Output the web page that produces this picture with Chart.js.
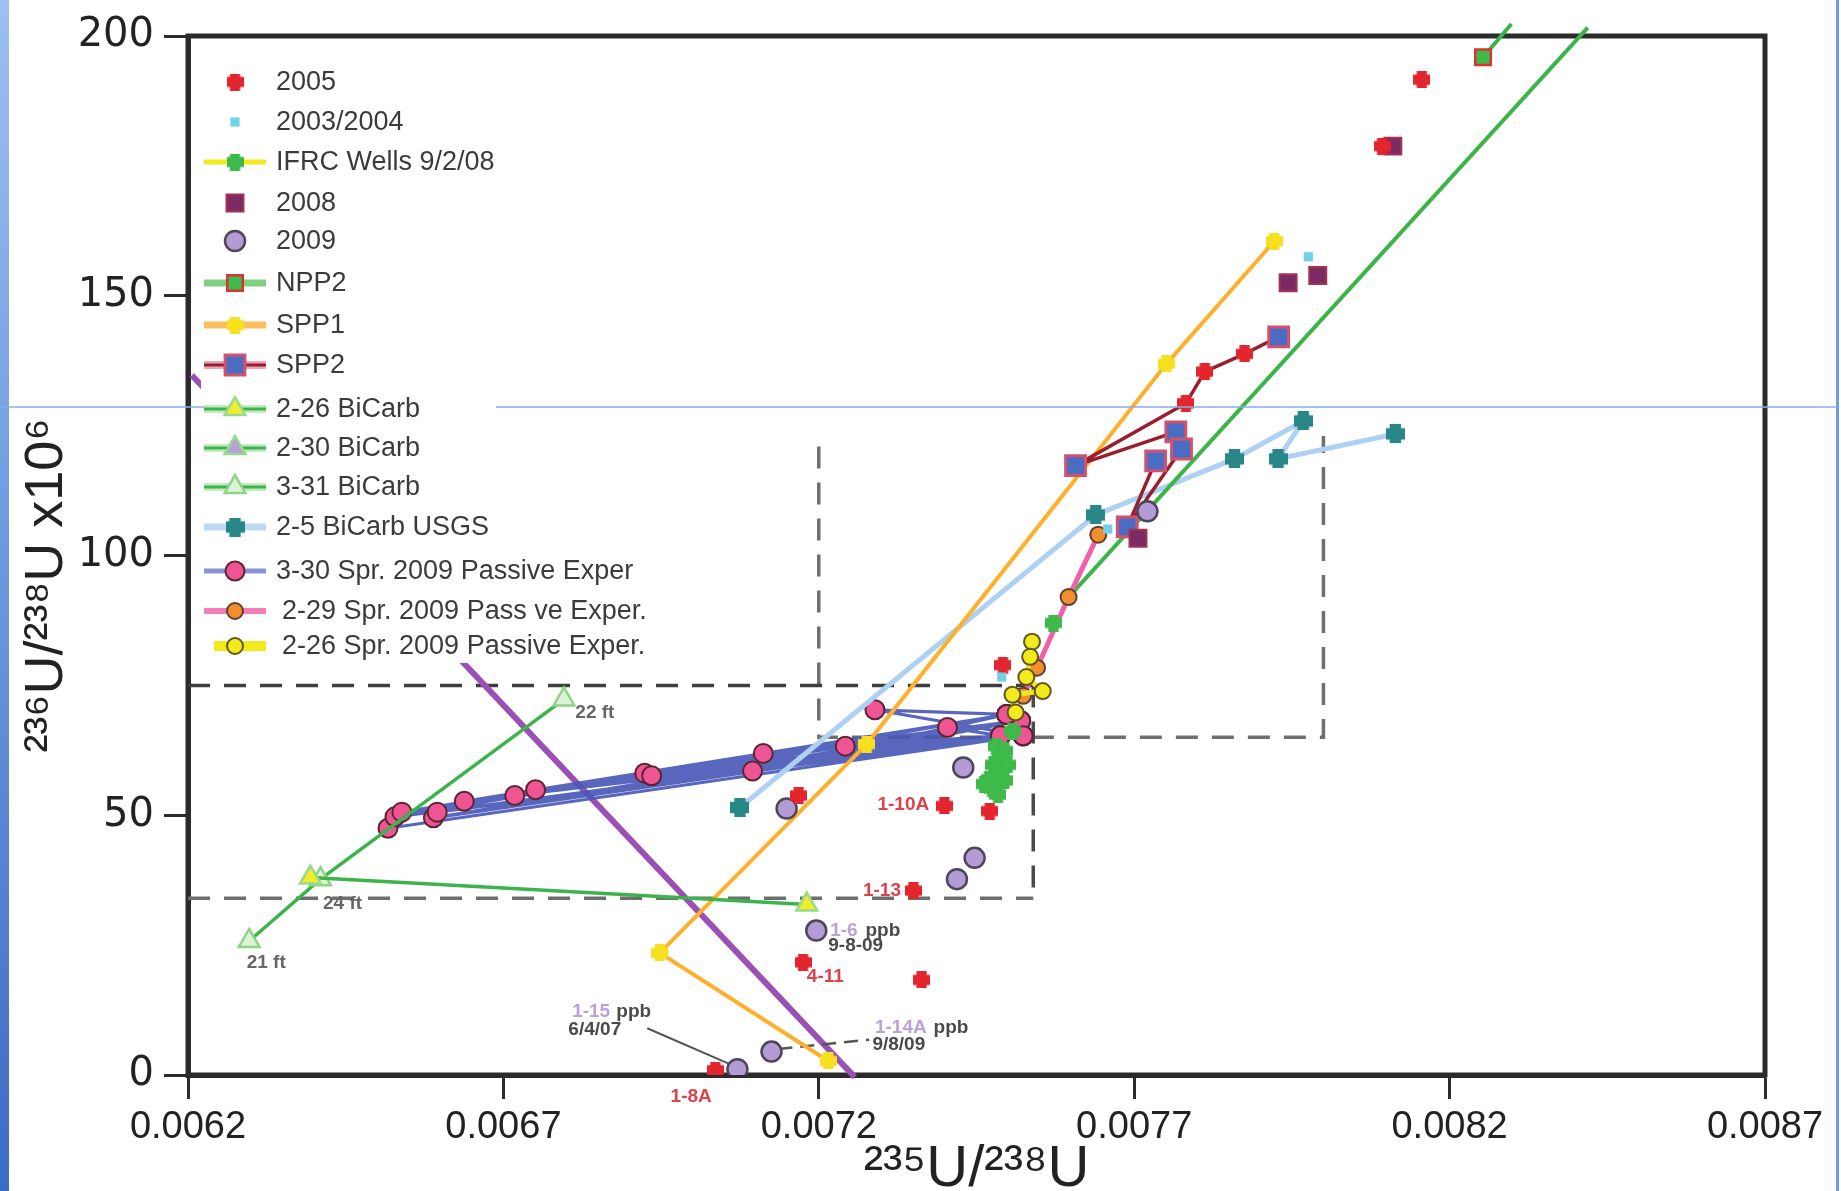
<!DOCTYPE html>
<html><head><meta charset="utf-8">
<script src="https://cdn.jsdelivr.net/npm/chart.js@4.4.1/dist/chart.umd.min.js"></script>
<style>html,body{margin:0;padding:0;background:#fff;overflow:hidden}#wrap{width:1841px;height:1191px;position:relative}</style>
</head><body><div id="wrap"><canvas id="c" width="1841" height="1191"></canvas></div>
<script>
// ---------------- DATA ----------------
const xTickValues = [0.0062, 0.0067, 0.0072, 0.0077, 0.0082, 0.0087];
const xTickLabels = ["0.0062", "0.0067", "0.0072", "0.0077", "0.0082", "0.0087"];
const yTickValues = [0, 50, 100, 150, 200];
const yTickLabels = ["0", "50", "100", "150", "200"];

const legendNames = ["2005", "2003/2004", "IFRC Wells 9/2/08", "2008", "2009", "NPP2", "SPP1", "SPP2",
  "2-26 BiCarb", "2-30 BiCarb", "3-31 BiCarb", "2-5 BiCarb USGS",
  "3-30 Spr. 2009 Passive Exper", "2-29 Spr. 2009 Pass ve Exper.", "2-26 Spr. 2009 Passive Exper."];

const pts2005 = [[0.008156,191.6],[0.008093,178.8],[0.007875,138.8],[0.007812,135.4],[0.007782,129.3],
  [0.007492,78.9],[0.007471,50.8],[0.007399,51.8],[0.007350,35.5],[0.007363,18.3],[0.007175,21.7],
  [0.007168,53.8],[0.007036,0.9]];
const pts0304 = [[0.007976,157.5],[0.007490,76.6],[0.007658,105.1]];
const ptsIFRC = [[0.007481,63.3],[0.007494,62.4],[0.007488,60.8],[0.007499,59.7],[0.007477,59.7],
  [0.007484,57.9],[0.007470,56.9],[0.007494,56.7],[0.007462,56.0],[0.007475,55.1],[0.007484,54.0],
  [0.007507,66.2],[0.007572,87.0]];
const pts2008 = [[0.008110,178.8],[0.007944,152.5],[0.007991,153.9],[0.007706,103.3]];
const pts2009 = [[0.007721,108.5],[0.007429,59.2],[0.007149,51.3],[0.007447,41.8],[0.007419,37.7],
  [0.007196,27.8],[0.007125,4.5],[0.007071,1.1]];
const npp2Long = [[0.007596,92.0],[0.008419,201.6]];
const npp2Short = [[0.008253,195.9],[0.008298,202.3]];
const spp1 = [[0.007922,160.5],[0.007751,136.9],[0.007276,63.7],[0.006948,23.5],[0.007215,2.7]];
const spp2Main = [[0.007929,142.1],[0.007875,138.8],[0.007812,135.4],[0.007782,129.3],[0.007607,117.3],[0.007766,123.8]];
const spp2BranchA = [[0.007775,120.5],[0.007689,105.5]];
const spp2BranchB = [[0.007734,118.2],[0.007689,105.5]];
const spp2Squares = [[0.007929,142.1],[0.007607,117.3],[0.007766,123.8],[0.007775,120.5],[0.007734,118.2],[0.007689,105.5]];
const bicarb226 = [[0.006394,38.0],[0.007181,32.8]];
const bicarb230 = [];
const bicarb331 = [[0.006297,25.8],[0.006410,37.7],[0.006796,72.3]];
const usgs25 = [[0.007075,51.5],[0.007639,107.8],[0.007859,118.6],[0.007968,125.9],[0.007928,118.6],[0.008114,123.4]];
const spr330 = [[0.006517,47.5],[0.007524,65.3],[0.006528,49.7],[0.007498,69.4],[0.006539,50.6],[0.007520,68.2],
  [0.006589,49.5],[0.007488,65.3],[0.006595,50.6],[0.007524,65.3],[0.006638,52.7],[0.007498,69.4],
  [0.006718,53.8],[0.007520,68.2],[0.006751,54.9],[0.007488,65.3],[0.006924,58.1],[0.007524,65.3],
  [0.006935,57.6],[0.007498,69.4],[0.007095,58.5],[0.007520,68.2],[0.007112,61.9],[0.007488,65.3],
  [0.007242,63.3],[0.007524,65.3],[0.007289,70.3],[0.007498,69.4],[0.007404,66.9],[0.007488,65.3]];
const spr229 = [[0.007643,104.0],[0.007596,92.0],[0.007546,78.4],[0.007524,73.0]];
const spr226 = [[0.007538,83.4],[0.007535,80.5],[0.007529,76.6],[0.007555,73.9],[0.007507,73.2],[0.007512,69.8]];
const purpleLine = [[0.006206,134.7],[0.007257,-0.4]];
const dashBox1Top = [[0.0062,75],[0.00754,75]];
const dashBox1Bottom = [[0.0062,34],[0.00754,34]];
const dashBox1Right = [[0.00754,75],[0.00754,34]];
const dashBox2 = [[0.0072,121],[0.0072,65],[0.0080,65],[0.0080,123]];
const leader115 = [[0.006928,9.0],[0.007068,1.6]];
const leader114 = [[0.007136,5.0],[0.007280,6.8]];

const annoText = ["22 ft","24 ft","21 ft","1-10A","1-13","4-11","1-8A","1-6","ppb","9-8-09","1-15","ppb","6/4/07","1-14A","ppb","9/8/09"];
const annoX = [0.006814,0.006414,0.006293,0.007293,0.007270,0.007181,0.006965,0.007218,0.007274,0.007215,0.006809,0.006879,0.006803,0.007289,0.007382,0.007285];
const annoY = [69.8,33.0,21.7,52.0,35.5,19.0,-4.1,27.8,27.8,24.9,12.2,12.2,8.8,9.0,9.0,5.9];
const annoKind = ["depth","depth","depth","well","well","well","well","well09","note","note","well09","note","note","well09","note","note"];

// ---------------- STYLES ----------------
function plusMarker(size, color) {
  const c = document.createElement('canvas'); c.width = c.height = size;
  const g = c.getContext('2d'); g.fillStyle = color;
  const m = size / 2, a = size * 0.3;
  g.fillRect(m - a, 0, 2 * a, size); g.fillRect(0, m - a, size, 2 * a);
  g.beginPath(); g.arc(m, m, size * 0.42, 0, Math.PI * 2); g.fill();
  return c;
}
const ST = {
  s2005: {img: plusMarker(17, '#e3262e')},
  s0304: {style: 'rect', r: 6.5, fill: '#72d0e8', stroke: '#72d0e8', bw: 0},
  ifrc:  {img: plusMarker(17, '#3dba4a')},
  s2008: {style: 'rect', r: 12, fill: '#7b2a63', stroke: '#a33350', bw: 2},
  s2009: {style: 'circle', r: 10, fill: '#b39bd5', stroke: '#4f4659', bw: 2.5},
  npp2:  {style: 'rect', r: 11, fill: '#3dba4a', stroke: '#d9342f', bw: 2.5},
  spp1:  {img: plusMarker(17, '#f7e020')},
  spp2:  {style: 'rect', r: 14, fill: '#4a6cc2', stroke: '#d5506e', bw: 3},
  b226:  {style: 'triangle', r: 12, fill: '#f2ec2e', stroke: '#98d98c', bw: 2.5},
  b230:  {style: 'triangle', r: 12, fill: '#b8a0d8', stroke: '#98d98c', bw: 2.5},
  b331:  {style: 'triangle', r: 12, fill: '#dcf3d6', stroke: '#8fd486', bw: 2.5},
  usgs:  {img: plusMarker(19, '#2a8787')},
  p330:  {style: 'circle', r: 9.5, fill: '#ee5592', stroke: '#5c2536', bw: 2},
  p229:  {style: 'circle', r: 8, fill: '#f48d2b', stroke: '#5d4232', bw: 2},
  p226:  {style: 'circle', r: 8, fill: '#f3ea1c', stroke: '#5e5722', bw: 2}
};
const xy = arr => arr.map(p => ({x: p[0], y: p[1]}));
function markerDs(data, st, order) {
  return {data: xy(data), showLine: false, order,
    pointStyle: st.img || st.style, pointRadius: st.r || 8,
    pointBackgroundColor: st.fill || '#000', pointBorderColor: st.stroke || '#000', pointBorderWidth: st.bw || 0};
}
function lineDs(data, color, width, order, st, extra) {
  const d = {data: xy(data), showLine: true, order, borderColor: color, borderWidth: width, fill: false, tension: 0};
  if (st) {
    Object.assign(d, {pointStyle: st.img || st.style, pointRadius: st.r || 8,
      pointBackgroundColor: st.fill || '#000', pointBorderColor: st.stroke || '#000', pointBorderWidth: st.bw || 0});
  } else { d.pointRadius = 0; }
  return Object.assign(d, extra || {});
}
const DASH = [22, 14];
const datasets = [
  lineDs(dashBox1Top, '#3d3d3d', 3.5, 100, null, {borderDash: DASH}),
  lineDs(dashBox1Bottom, '#6e6e6e', 3.5, 100, null, {borderDash: DASH}),
  lineDs(dashBox1Right, '#4a4a4a', 3.5, 100, null, {borderDash: DASH}),
  lineDs(dashBox2, '#6e6e6e', 3.5, 100, null, {borderDash: DASH}),
  lineDs(purpleLine, '#9b50b4', 6, 90, null, {clip: 6}),
  lineDs(leader115, '#555555', 2, 85),
  lineDs(leader114, '#555555', 2.5, 85, null, {borderDash: [14, 8]}),
  lineDs(spr330, 'rgba(70,86,182,0.9)', 3.2, 80, ST.p330),
  lineDs(usgs25, '#aed0f2', 5, 70, ST.usgs),
  lineDs(spp1, '#fdb02c', 4, 60, ST.spp1),
  lineDs(npp2Long, '#3cb44b', 4, 55, null, {clip: 20}),
  lineDs(npp2Short, '#3cb44b', 4, 55, ST.npp2, {clip: 20, pointRadius: [11, 0]}),
  lineDs(bicarb331, '#3cb44b', 3.5, 50, ST.b331),
  lineDs(bicarb226, '#3cb44b', 3.5, 49, ST.b226),
  lineDs(bicarb230, '#3cb44b', 3.5, 49, ST.b230),
  lineDs(spp2Main, '#9a1f2e', 3.5, 45),
  lineDs(spp2BranchA, '#9a1f2e', 3.5, 45),
  lineDs(spp2BranchB, '#9a1f2e', 3.5, 45),
  markerDs(spp2Squares, ST.spp2, 44),
  lineDs(spr229, '#f160a8', 5, 40, ST.p229),
  lineDs(spr226, '#f0e520', 5, 35, ST.p226),
  markerDs(ptsIFRC, ST.ifrc, 30),
  markerDs(pts2009, ST.s2009, 25),
  markerDs(pts2008, ST.s2008, 20),
  markerDs(pts2005, ST.s2005, 10),
  markerDs(pts0304, ST.s0304, 5)
];

// ---------------- LEGEND / DECOR ----------------
const legendStyle = [
  {m: ST.s2005}, {m: ST.s0304}, {m: ST.ifrc, lines: [['#f2ea1e', 5]]}, {m: ST.s2008}, {m: ST.s2009},
  {m: ST.npp2, lines: [['#7fd07f', 7]]}, {m: ST.spp1, lines: [['#fdbd5f', 7]]},
  {m: ST.spp2, lines: [['#e6a9b2', 8], ['#9b1c2c', 3]]},
  {m: ST.b226, lines: [['#c4eac0', 8], ['#3cb44b', 3]]}, {m: ST.b230, lines: [['#c4eac0', 8], ['#3cb44b', 3]]},
  {m: ST.b331, lines: [['#c4eac0', 8], ['#3cb44b', 3]]}, {m: ST.usgs, lines: [['#bcd8f3', 7]]},
  {m: ST.p330, lines: [['#8a93d4', 5]]}, {m: ST.p229, lines: [['#f47fb6', 6]]},
  {m: ST.p226, lines: [['#f3ea1c', 10]], x0: 214}
];
const legendRowY = [82, 122, 162, 203, 241, 283, 325, 365, 409, 448, 487, 527, 571, 611, 646];

function drawMarker(ctx, st, x, y) {
  if (st.img) { ctx.drawImage(st.img, x - st.img.width / 2, y - st.img.height / 2); return; }
  const r = st.r; ctx.beginPath();
  if (st.style === 'circle') ctx.arc(x, y, r, 0, Math.PI * 2);
  else if (st.style === 'rect') { const s = r * Math.SQRT1_2; ctx.rect(x - s, y - s, 2 * s, 2 * s); }
  else if (st.style === 'triangle') {
    ctx.moveTo(x, y - r); ctx.lineTo(x + r * Math.sin(2 * Math.PI / 3), y - r * Math.cos(2 * Math.PI / 3));
    ctx.lineTo(x + r * Math.sin(4 * Math.PI / 3), y - r * Math.cos(4 * Math.PI / 3)); ctx.closePath();
  }
  ctx.fillStyle = st.fill; ctx.fill();
  if (st.bw) { ctx.lineWidth = st.bw; ctx.strokeStyle = st.stroke; ctx.stroke(); }
}
const decor = {
  id: 'decor',
  beforeDatasetsDraw(chart) {
    const {ctx, chartArea: a} = chart;
    ctx.save(); ctx.strokeStyle = '#2b2b2b'; ctx.lineWidth = 5;
    ctx.strokeRect(a.left, a.top, a.right - a.left, a.bottom - a.top); ctx.restore();
  },
  afterDatasetsDraw(chart) {
    const ctx = chart.ctx; ctx.save();
    ctx.fillStyle = '#ffffff'; ctx.fillRect(201, 46, 470, 617);
    ctx.font = "27px 'Liberation Sans', Arial, sans-serif"; ctx.textBaseline = 'middle'; ctx.textAlign = 'left';
    legendNames.forEach((name, i) => {
      const y = legendRowY[i], s = legendStyle[i];
      (s.lines || []).forEach(l => { ctx.strokeStyle = l[0]; ctx.lineWidth = l[1]; ctx.beginPath();
        ctx.moveTo(s.x0 || 204, y); ctx.lineTo(266, y); ctx.stroke(); });
      drawMarker(ctx, s.m, 235, y);
      ctx.fillStyle = '#3b3b3b'; ctx.fillText(name, i >= 13 ? 282 : 276, y + 1);
    });
    const xs = chart.scales.x, ys = chart.scales.y;
    const colors = {depth: '#666666', well: '#e0424c', well09: '#b8a2d6', note: '#4a4a4a'};
    ctx.font = "bold 19px 'Liberation Sans', Arial, sans-serif";
    annoText.forEach((t, i) => {
      ctx.fillStyle = colors[annoKind[i]];
      ctx.fillText(t, xs.getPixelForValue(annoX[i]), ys.getPixelForValue(annoY[i]));
    });
    ctx.restore();
  },
  afterDraw(chart) {
    const ctx = chart.ctx; ctx.save();
    const g = ctx.createLinearGradient(0, 0, 0, 1191);
    g.addColorStop(0, '#9cc0f2'); g.addColorStop(1, '#3a6cc4');
    ctx.fillStyle = g; ctx.fillRect(0, 0, 9, 1191);
    ctx.fillStyle = '#6f9be0'; ctx.fillRect(1836, 0, 3, 1191);
    ctx.strokeStyle = '#86aee8'; ctx.lineWidth = 1.5; ctx.beginPath();
    ctx.moveTo(0, 407); ctx.lineTo(205, 407); ctx.moveTo(496, 407); ctx.lineTo(1837, 407); ctx.stroke();
    ctx.restore();
  }
};

const SANS = "'Liberation Sans', Arial, sans-serif";
const AX = '#2b2b2b';
new Chart(document.getElementById('c'), {
  type: 'scatter',
  data: {datasets},
  options: {
    responsive: false, animation: false, events: [],
    layout: {padding: {left: 0, right: 76, top: 36, bottom: 0}},
    plugins: {legend: {display: false}, tooltip: {enabled: false}},
    scales: {
      x: {type: 'linear', min: 0.0062, max: 0.0087,
        afterBuildTicks(s) { s.ticks = xTickValues.map(v => ({value: v})); },
        afterFit(s) { s.height = 116; },
        ticks: {callback: (v, i) => xTickLabels[i], font: {family: SANS, size: 38}, color: '#222', padding: 6, maxRotation: 0, minRotation: 0, autoSkip: false},
        grid: {drawOnChartArea: false, drawTicks: true, tickLength: 24, tickWidth: 3, tickColor: AX},
        border: {display: true, width: 5, color: AX},
        title: {display: true, text: '²³⁵U/²³⁸U', font: {family: SANS, size: 58, lineHeight: 1}, color: '#222', padding: {top: 0, bottom: -8}}
      },
      y: {type: 'linear', min: 0, max: 200,
        afterBuildTicks(s) { s.ticks = yTickValues.map(v => ({value: v})); },
        afterFit(s) { s.width = 188; },
        ticks: {callback: (v, i) => yTickLabels[i], font: {family: "'DejaVu Sans', sans-serif", size: 40}, color: '#222', padding: 10, autoSkip: false},
        grid: {drawOnChartArea: false, drawTicks: true, tickLength: 24, tickWidth: 3, tickColor: AX},
        border: {display: true, width: 5, color: AX},
        title: {display: true, text: '²³⁶U/²³⁸U x10⁶    ', font: {family: SANS, size: 54, lineHeight: 1}, color: '#222', padding: {top: 20, bottom: 0}}
      }
    }
  },
  plugins: [decor]
});
</script></body></html>
